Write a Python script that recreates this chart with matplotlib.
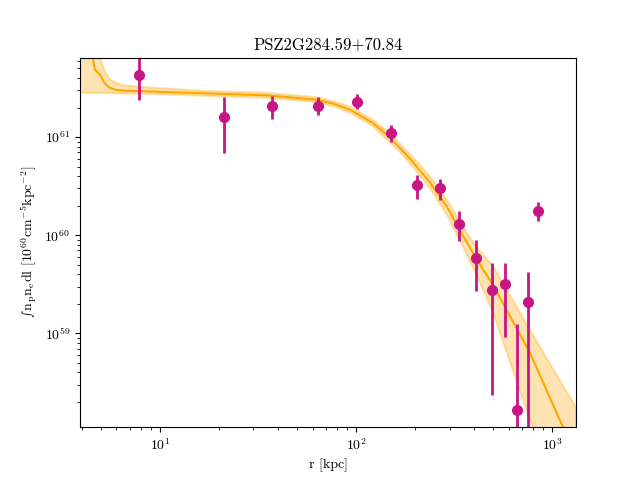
import numpy as np
import matplotlib
matplotlib.use("Agg")
import matplotlib.pyplot as plt

plt.rcParams['font.family'] = 'serif'
plt.rcParams['font.serif'] = ['cmr10', 'DejaVu Serif']
plt.rcParams['mathtext.fontset'] = 'cm'
plt.rcParams['axes.formatter.use_mathtext'] = True
plt.rcParams['axes.unicode_minus'] = False

# data points (r in kpc, emission measure)
r_data = [7.8, 21.2, 37.3, 64.0, 101, 150, 205, 269, 336, 409, 496, 575, 665, 755, 851]
y_data = [4.32e61, 1.61e61, 2.05e61, 2.05e61, 2.28e61, 1.10e61, 3.26e60, 3.02e60,
          1.29e60, 5.82e59, 2.77e59, 3.18e59, 1.65e58, 2.07e59, 1.77e60]
y_low = [2.4e61, 6.9e60, 1.53e61, 1.66e61, 1.93e61, 9.0e60, 2.34e60, 2.29e60,
         8.8e59, 2.72e59, 2.34e58, 9.24e58, 1e57, 1e57, 1.38e60]
y_high = [8e61, 2.57e61, 2.64e61, 2.55e61, 2.77e61, 1.34e61, 4.12e60, 3.75e60,
          1.78e60, 8.95e59, 5.26e59, 5.26e59, 1.24e59, 4.2e59, 2.19e60]

# best-fit model and its confidence band
r_model = [3.91, 4.29, 4.54, 4.66, 4.94, 5.24, 5.56, 6.01, 6.50, 8.55, 16.0, 35.1,
           63.2, 76.4, 93.2, 107.4, 122, 147, 167.5, 195, 239, 291, 352, 414, 500,
           773, 1125, 1325]
y_model = [1.0e62, 7.8e61, 6.4e61, 4.86e61, 4.32e61, 3.50e61, 3.16e61, 3.02e61,
           2.97e61, 2.92e61, 2.80e61, 2.66e61, 2.40e61, 2.19e61, 1.90e61, 1.61e61,
           1.39e61, 1.01e61, 7.76e60, 5.57e60, 3.42e60, 1.95e60, 9.84e59, 5.6e59,
           3.11e59, 6.3e58, 1.16e58, 5.5e57]
y_model_lo = [2.81e61, 2.81e61, 2.81e61, 2.81e61, 2.81e61, 2.81e61, 2.80e61, 2.79e61,
              2.77e61, 2.75e61, 2.64e61, 2.51e61, 2.27e61, 2.06e61, 1.77e61, 1.50e61,
              1.29e61, 9.06e60, 7.08e60, 4.98e60, 2.97e60, 1.61e60, 7.6e59, 3.85e59,
              1.63e59, 1.30e58, 1.99e57, 7.8e56]
y_model_hi = [1.57e62, 1.57e62, 1.40e62, 9.8e61, 6.44e61, 4.67e61, 3.85e61, 3.56e61,
              3.37e61, 3.22e61, 2.97e61, 2.82e61, 2.55e61, 2.32e61, 2.04e61, 1.73e61,
              1.50e61, 1.12e61, 8.55e60, 6.22e60, 3.94e60, 2.29e60, 1.22e60, 7.4e59,
              4.87e59, 1.08e59, 3.04e58, 1.77e58]

fig, ax = plt.subplots(figsize=(6.4, 4.8), dpi=100)

ax.fill_between(r_model, y_model_lo, y_model_hi, color='orange', alpha=0.3, lw=1.5)
ax.plot(r_model, y_model, color='orange', lw=1.5)

y = np.array(y_data)
yerr = [y - np.array(y_low), np.array(y_high) - y]
ax.errorbar(r_data, y_data, yerr=yerr, fmt='o', color='mediumvioletred',
            ms=7, elinewidth=2, capsize=0)

ax.set_xscale('log')
ax.set_yscale('log')
ax.set_xlim(3.91, 1325)
ax.set_ylim(1.107e58, 6.45e61)
ax.set_xlabel('r [kpc]')
# small text-style integral sign from the cm symbol font
ax.set_ylabel(r'$\mathcal{s}\,\mathrm{n_p n_e dl}$ [$10^{60}\mathrm{cm^{-5}kpc^{-2}}$]')
ax.set_title('PSZ2G284.59+70.84')

fig.savefig('out.png', dpi=100)
